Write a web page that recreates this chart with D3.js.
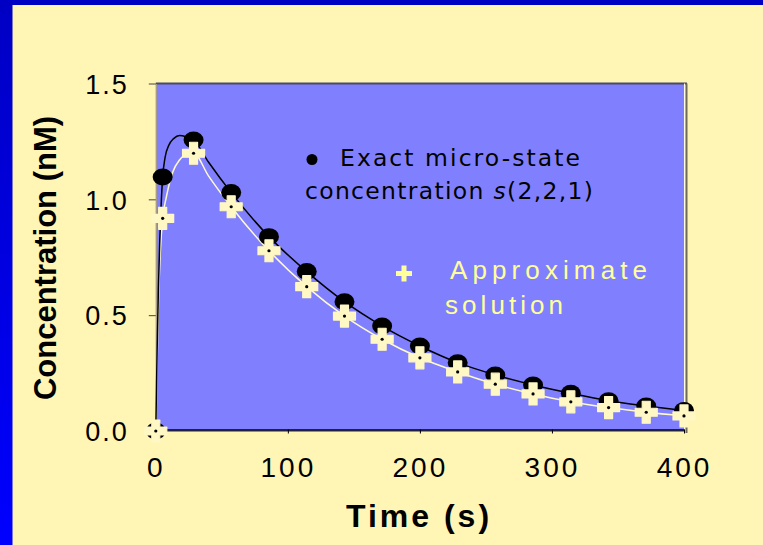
<!DOCTYPE html>
<html>
<head>
<meta charset="utf-8">
<script src="https://cdn.jsdelivr.net/npm/d3@7"></script>
<style>
  html, body { margin: 0; padding: 0; background: #fff5b5; }
  svg { display: block; font-family: "Liberation Sans", Arial, sans-serif; }
</style>
</head>
<body>
<svg id="chart" width="763" height="545"></svg>
<script>
// Sampled times (s) and the two concentration series (nM)
const sampleTimes  = [0, 5.2, 28.6, 57.1, 85.7, 114.3, 142.9, 171.4, 200, 228.6, 257.1, 285.7, 314.3, 342.9, 371.4, 400];
const exactValues  = [0, 1.096, 1.256, 1.029, 0.839, 0.688, 0.558, 0.453, 0.367, 0.295, 0.242, 0.199, 0.163, 0.131, 0.108, 0.088];
const approxValues = [0, 0.918, 1.199, 0.968, 0.778, 0.623, 0.496, 0.396, 0.316, 0.255, 0.202, 0.160, 0.126, 0.101, 0.081, 0.065];

// Continuous solution curves (finer near the initial rise)
const exactCurveT  = [0, 1, 2, 3, 4, 5.2, 7, 10, 13.5, 18, 23, 28.6, 40, 57.1, 85.7, 114.3, 142.9, 171.4, 200, 228.6, 257.1, 285.7, 314.3, 342.9, 371.4, 400];
const exactCurveV  = [0, 0.35, 0.62, 0.82, 0.97, 1.096, 1.18, 1.235, 1.262, 1.276, 1.27, 1.256, 1.16, 1.029, 0.839, 0.688, 0.558, 0.453, 0.367, 0.295, 0.242, 0.199, 0.163, 0.131, 0.108, 0.088];
const approxCurveT = [0, 1, 2, 3.5, 5.2, 8, 13, 18, 23, 28.6, 40, 57.1, 85.7, 114.3, 142.9, 171.4, 200, 228.6, 257.1, 285.7, 314.3, 342.9, 371.4, 400];
const approxCurveV = [0, 0.3, 0.55, 0.78, 0.918, 1.01, 1.12, 1.17, 1.195, 1.199, 1.1, 0.968, 0.778, 0.623, 0.496, 0.396, 0.316, 0.255, 0.202, 0.160, 0.126, 0.101, 0.081, 0.065];

// Axis ticks
const xTicks = [0, 100, 200, 300, 400];
const yTicks = [0, 0.5, 1.0, 1.5];

const svg = d3.select("#chart");
const W = 763, H = 545;

// Frame: blue band along the top and left edges
const defs = svg.append("defs");
const grad = defs.append("linearGradient").attr("id", "frameGrad")
  .attr("x1", 0).attr("y1", 0).attr("x2", 0).attr("y2", 1);
grad.append("stop").attr("offset", "0%").attr("stop-color", "#0000c4");
grad.append("stop").attr("offset", "100%").attr("stop-color", "#0000ff");
svg.append("rect").attr("x", 0).attr("y", 0).attr("width", W).attr("height", H).attr("fill", "#fff5b5");
svg.append("rect").attr("x", 0).attr("y", 0).attr("width", W).attr("height", 5).attr("fill", "#0000c4");
svg.append("rect").attr("x", 0).attr("y", 0).attr("width", 12.5).attr("height", H).attr("fill", "url(#frameGrad)");

const x = d3.scaleLinear().domain([0, 400]).range([155.8, 684]);
const y = d3.scaleLinear().domain([0, 1.5]).range([431, 83.5]);

// Plot area
svg.append("rect")
  .attr("x", x(0)).attr("y", y(1.5))
  .attr("width", x(400) - x(0)).attr("height", y(0) - y(1.5) + 1)
  .attr("fill", "#8080ff");
// top and right edges of the plot frame
svg.append("line").attr("x1", x(0)).attr("x2", x(400) + 3).attr("y1", y(1.5)).attr("y2", y(1.5))
  .attr("stroke", "#4a4a60").attr("stroke-width", 2);
svg.append("line").attr("x1", x(400) + 0.5).attr("x2", x(400) + 0.5).attr("y1", y(1.5)).attr("y2", y(0) + 2)
  .attr("stroke", "#fffbe0").attr("stroke-width", 1);
svg.append("line").attr("x1", x(400) + 2.5).attr("x2", x(400) + 2.5).attr("y1", y(1.5)).attr("y2", y(0) + 2)
  .attr("stroke", "#706a58").attr("stroke-width", 2);

// Y axis
const yAxis = svg.append("g").attr("transform", `translate(${x(0)},0)`)
  .call(d3.axisLeft(y).tickValues(yTicks).tickFormat(d3.format(".1f")).tickSize(7).tickSizeOuter(0));
yAxis.select(".domain").attr("stroke", "#b0a070").attr("stroke-width", 1);
yAxis.selectAll(".tick line").attr("stroke", "#444");
yAxis.selectAll(".tick text")
  .attr("x", -27).attr("dy", "0.36em")
  .attr("font-size", 27).attr("letter-spacing", 2).attr("fill", "#000")
  .attr("font-family", "Liberation Sans, Arial, sans-serif");

// X axis
const xAxis = svg.append("g").attr("transform", `translate(0,${y(0) - 1.5})`)
  .call(d3.axisBottom(x).tickValues(xTicks).tickSize(4).tickSizeOuter(0));
xAxis.select(".domain").attr("stroke", "#000").attr("stroke-width", 1.5);
xAxis.selectAll(".tick line").attr("stroke", "#000");
xAxis.selectAll(".tick text")
  .attr("y", 47).attr("dy", 0)
  .attr("font-size", 28).attr("letter-spacing", 3).attr("fill", "#000")
  .attr("font-family", "Liberation Sans, Arial, sans-serif");

// Axis titles
svg.append("text")
  .attr("transform", `translate(56,${258}) rotate(-90)`)
  .attr("text-anchor", "middle")
  .attr("font-size", 31).attr("font-weight", "bold").attr("fill", "#000")
  .text("Concentration (nM)");
svg.append("text")
  .attr("x", 419).attr("y", 527)
  .attr("text-anchor", "middle")
  .attr("font-size", 32).attr("font-weight", "bold").attr("letter-spacing", 3).attr("fill", "#000")
  .text("Time (s)");

// Solution curves
const line = d3.line().x(d => x(d[0])).y(d => y(d[1])).curve(d3.curveMonotoneX);
svg.append("path").datum(d3.zip(approxCurveT, approxCurveV))
  .attr("d", line).attr("fill", "none").attr("stroke", "#fffacc").attr("stroke-width", 1.5);
svg.append("path").datum(d3.zip(exactCurveT, exactCurveV))
  .attr("d", line).attr("fill", "none").attr("stroke", "#000").attr("stroke-width", 1.5);

// Exact micro-state markers
svg.append("g").selectAll("ellipse").data(d3.zip(sampleTimes, exactValues)).join("ellipse")
  .attr("cx", d => x(d[0])).attr("cy", d => y(d[1]))
  .attr("rx", 10).attr("ry", 8.5).attr("fill", "#000");

// Approximate solution markers: cream crosses with a small centre dot
const crossPath = (cx, cy) => {
  const a = 11, b = 4;
  return `M${cx - b},${cy - a}H${cx + b}V${cy - b}H${cx + a}V${cy + b}H${cx + b}V${cy + a}H${cx - b}V${cy + b}H${cx - a}V${cy - b}H${cx - b}Z`;
};
const crosses = svg.append("g").selectAll("g").data(d3.zip(sampleTimes, approxValues)).join("g");
crosses.append("path")
  .attr("d", d => crossPath(x(d[0]), y(d[1])))
  .attr("fill", "#fff8c4").attr("stroke", "#fff8c4").attr("stroke-width", 1.2).attr("stroke-linejoin", "round");
crosses.append("circle")
  .attr("cx", d => x(d[0])).attr("cy", d => y(d[1])).attr("r", 1.6).attr("fill", "#000");

// Legend
svg.append("circle").attr("cx", 312).attr("cy", 159.5).attr("r", 5.5).attr("fill", "#000");
svg.append("text").attr("x", 340).attr("y", 166)
  .attr("font-size", 23.5).attr("fill", "#000").attr("font-family", "DejaVu Sans, sans-serif")
  .attr("textLength", 240).attr("lengthAdjust", "spacing")
  .text("Exact micro-state");
const l2 = svg.append("text").attr("x", 305).attr("y", 198.5)
  .attr("font-size", 23.5).attr("fill", "#000").attr("font-family", "DejaVu Sans, sans-serif")
  .attr("textLength", 288).attr("lengthAdjust", "spacing");
l2.append("tspan").text("concentration ");
l2.append("tspan").attr("font-style", "italic").text("s");
l2.append("tspan").text("(2,2,1)");

svg.append("rect").attr("x", 396).attr("y", 271).attr("width", 16).attr("height", 5).attr("fill", "#ffff99");
svg.append("rect").attr("x", 401.5).attr("y", 265.5).attr("width", 5).attr("height", 16).attr("fill", "#ffff99");
svg.append("text").attr("x", 450).attr("y", 278.5)
  .attr("font-size", 26).attr("fill", "#ffff99")
  .attr("textLength", 197).attr("lengthAdjust", "spacing")
  .text("Approximate");
svg.append("text").attr("x", 445).attr("y", 313.5)
  .attr("font-size", 26).attr("fill", "#ffff99")
  .attr("textLength", 118).attr("lengthAdjust", "spacing")
  .text("solution");
</script>
</body>
</html>
